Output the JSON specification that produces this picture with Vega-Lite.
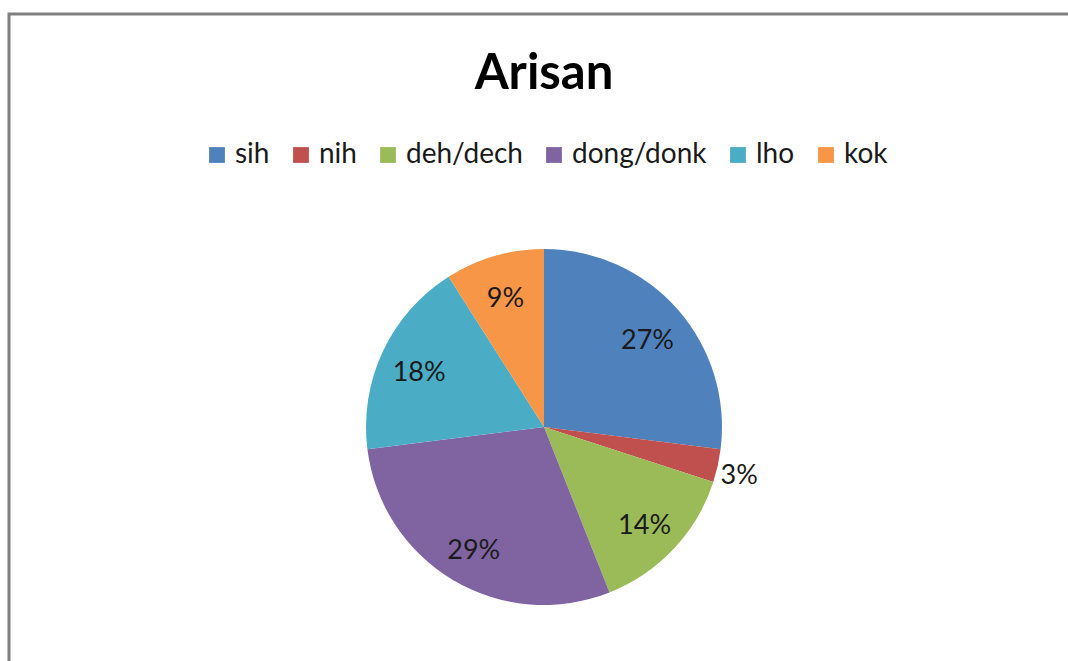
{
  "$schema": "https://vega.github.io/schema/vega-lite/v6.json",
  "width": 1070,
  "height": 826,
  "autosize": {"type": "none"},
  "padding": {"left": 9, "top": 14, "right": 0, "bottom": 0},
  "background": "white",
  "view": {"stroke": "#808080", "strokeWidth": 3},
  "config": {
    "view": {"stroke": "#808080", "strokeWidth": 3},
    "font": "Lato"
  },
  "title": {
    "text": "Arisan",
    "font": "Lato",
    "fontSize": 49,
    "fontWeight": "bold",
    "color": "#000000",
    "anchor": "middle",
    "baseline": "alphabetic",
    "offset": 0,
    "dy": 124
  },
  "data": {
    "values": [
      {"k": 1, "cat": "sih", "share": 0.27},
      {"k": 2, "cat": "nih", "share": 0.03},
      {"k": 3, "cat": "deh/dech", "share": 0.14},
      {"k": 4, "cat": "dong/donk", "share": 0.29},
      {"k": 5, "cat": "lho", "share": 0.18},
      {"k": 6, "cat": "kok", "share": 0.09}
    ]
  },
  "encoding": {
    "theta": {"field": "share", "type": "quantitative", "stack": true},
    "order": {"field": "k", "type": "quantitative"}
  },
  "layer": [
    {
      "mark": {"type": "arc", "outerRadius": 178},
      "encoding": {
        "color": {
          "field": "cat",
          "type": "nominal",
          "sort": null,
          "scale": {
            "domain": ["sih", "nih", "deh/dech", "dong/donk", "lho", "kok"],
            "range": ["#4F81BD", "#C0504D", "#9BBB59", "#8064A2", "#4BACC6", "#F79646"]
          },
          "legend": {
            "orient": "none",
            "direction": "horizontal",
            "legendX": 194,
            "legendY": 127,
            "title": null,
            "symbolType": "square",
            "symbolSize": 250,
            "symbolStrokeWidth": 0,
            "labelFont": "Lato",
            "labelFontSize": 28,
            "labelColor": "#1a1a1a",
            "labelOffset": 4,
            "columnPadding": 17,
            "padding": 0
          }
        }
      }
    },
    {
      "mark": {
        "type": "text",
        "fontSize": 27,
        "font": "Lato",
        "color": "#1a1a1a",
        "dy": 5,
        "radius": {"expr": "datum.share < 0.05 ? 200 : 138"}
      },
      "encoding": {
        "text": {"field": "share", "type": "quantitative", "format": ".0%"}
      }
    }
  ]
}
